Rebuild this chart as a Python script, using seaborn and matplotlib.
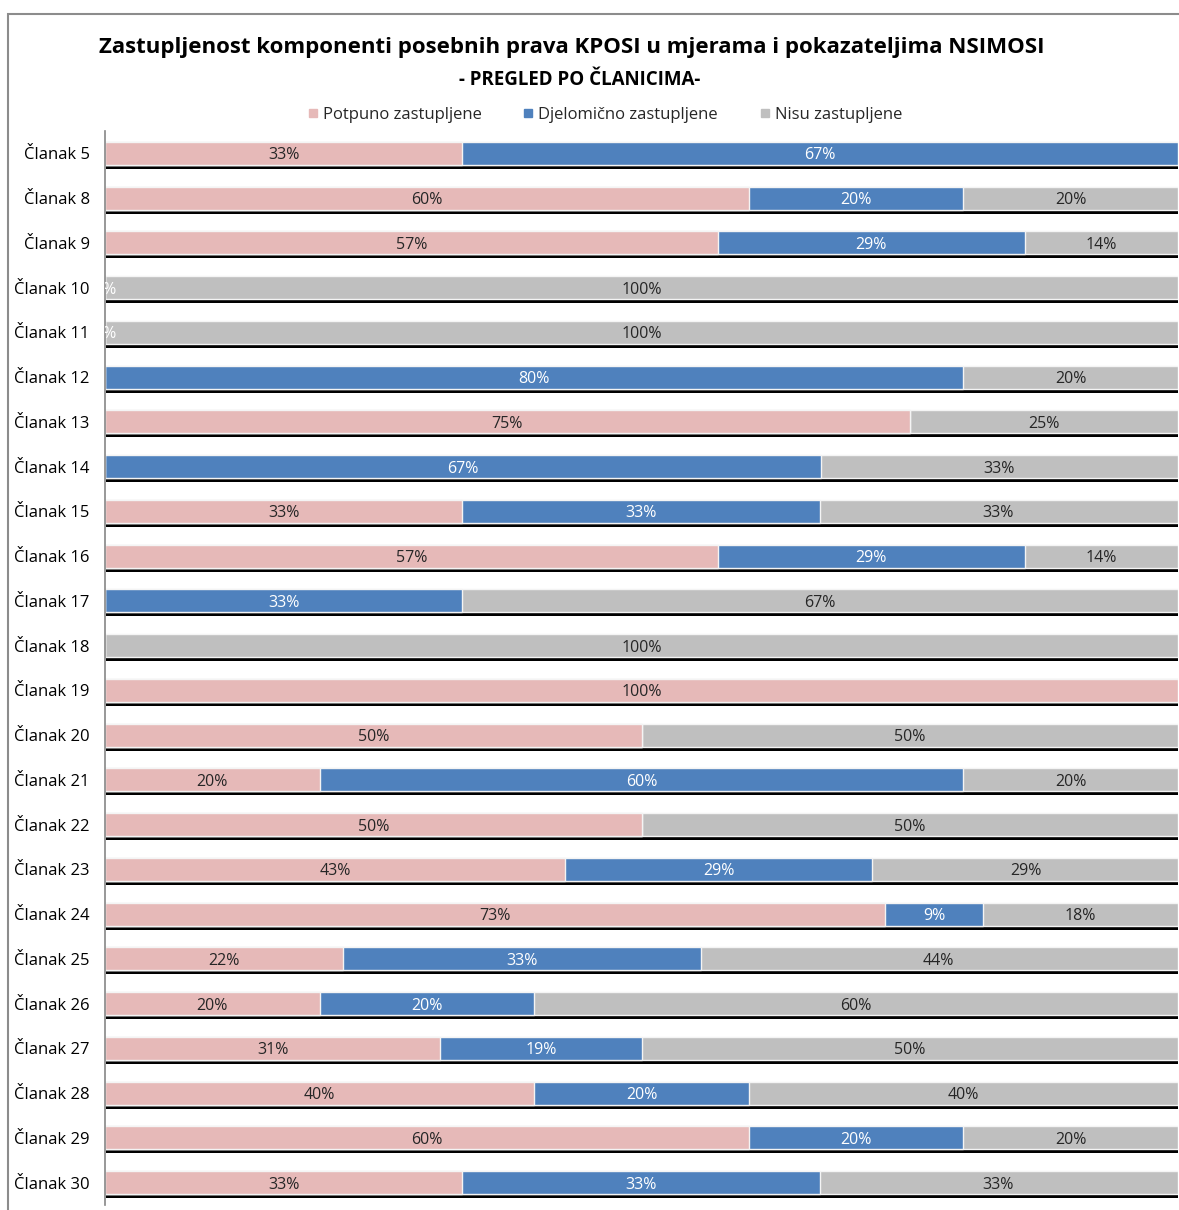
import numpy as np
import pandas as pd
import matplotlib
matplotlib.use("Agg")
import matplotlib.pyplot as plt
import matplotlib.patheffects as pe
from matplotlib.patches import Rectangle
from matplotlib.lines import Line2D
import seaborn as sns

articles = ["Članak 5", "Članak 8", "Članak 9", "Članak 10", "Članak 11", "Članak 12",
            "Članak 13", "Članak 14", "Članak 15", "Članak 16", "Članak 17", "Članak 18",
            "Članak 19", "Članak 20", "Članak 21", "Članak 22", "Članak 23", "Članak 24",
            "Članak 25", "Članak 26", "Članak 27", "Članak 28", "Članak 29", "Članak 30"]
full = [33.3, 60, 57.1, 0, 0, 0, 75, 0, 33.3, 57.1, 0, 0, 100, 50, 20, 50, 42.9, 72.7,
        22.2, 20, 31.25, 40, 60, 33.3]
partial = [66.7, 20, 28.6, 0, 0, 80, 0, 66.7, 33.3, 28.6, 33.3, 0, 0, 0, 60, 0, 28.6, 9.1,
           33.3, 20, 18.75, 20, 20, 33.3]
none_ = [0, 20, 14.3, 100, 100, 20, 25, 33.3, 33.3, 14.3, 66.7, 100, 0, 50, 20, 50, 28.6, 18.2,
         44.4, 60, 50, 40, 20, 33.3]
series_names = ["Potpuno zastupljene", "Djelomično zastupljene", "Nisu zastupljene"]
colors = ["#E6B9B8", "#4F81BD", "#BFBFBF"]
zero_label_rows = ["Članak 10", "Članak 11"]

title = "Zastupljenost komponenti posebnih prava KPOSI u mjerama i pokazateljima NSIMOSI"
subtitle = "- PREGLED PO ČLANICIMA-"

sns.set_style("white")
plt.rcParams["font.family"] = ["Open Sans", "DejaVu Sans"]

df = pd.DataFrame({"article": articles, "full": full, "partial": partial, "none": none_})
df["c1"] = df["full"]
df["c2"] = df["full"] + df["partial"]
df["c3"] = df["full"] + df["partial"] + df["none"]
df["c3"] = df["c3"] / df["c3"] * 100

W, H = 1179, 1210
fig = plt.figure(figsize=(W / 100, H / 100), dpi=100)
ax = fig.add_axes([105 / W, 1 - 1205 / H, 1073 / W, (1205 - 131) / H])

bw = 0.51
edge_kw = dict(edgecolor="#F4F4F4", linewidth=1.0)
sns.barplot(data=df, x="c3", y="article", color=colors[2], saturation=1, width=bw,
            orient="h", ax=ax, **edge_kw)
n_first = len(ax.patches)
for p in ax.patches[:n_first]:
    p.set_path_effects([pe.SimplePatchShadow(offset=(0.7, -2.9), shadow_rgbFace="black", alpha=1),
                        pe.Normal()])
sns.barplot(data=df, x="c2", y="article", color=colors[1], saturation=1, width=bw,
            orient="h", ax=ax, **edge_kw)
sns.barplot(data=df, x="c1", y="article", color=colors[0], saturation=1, width=bw,
            orient="h", ax=ax, **edge_kw)

# segment labels
for i, row in df.iterrows():
    start = 0
    for val, col in zip([row["full"], row["partial"], row["none"]], colors):
        if val > 0:
            tc = "white" if col == colors[1] else "#262626"
            ax.text(start + val / 2, i, f"{val:.0f}%", ha="center", va="center_baseline",
                    fontsize=11.5, color=tc, clip_on=True)
        start += val
    if row["article"] in zero_label_rows:
        ax.text(0, i, "0%", ha="center", va="center_baseline", fontsize=11.5, color="white",
                clip_on=True)

ax.set_xlim(0, 100)
ax.set_ylim(len(articles) - 0.5, -0.5)
ax.set_xlabel("")
ax.set_ylabel("")
ax.set_xticks([])
ax.tick_params(axis="y", length=0, pad=11, labelsize=12, labelcolor="black")
for s in ["top", "right", "bottom"]:
    ax.spines[s].set_visible(False)
ax.spines["left"].set_color("#868686")
ax.spines["left"].set_linewidth(1.2)

# titles
fig.text(572 / W, 1 - 48 / H, title, ha="center", va="center", fontsize=16, fontweight="bold",
         color="black")
fig.text(580 / W, 1 - 80 / H, subtitle, ha="center", va="center", fontsize=13.5,
         fontweight="bold", color="black")

handles = [Line2D([0], [0], marker="s", linestyle="", markersize=6, markerfacecolor=c,
                  markeredgecolor=c) for c in colors]
fig.legend(handles, series_names, loc="center", bbox_to_anchor=(604 / W, 1 - 115 / H),
           ncol=3, frameon=False, fontsize=12, handletextpad=0.2, columnspacing=2.4,
           handlelength=0.8)

# chart frame
fig.add_artist(Rectangle((8 / W, -0.1), 1.2, 1.1 - 14 / H, transform=fig.transFigure,
                         fill=False, edgecolor="#8c8c8c", linewidth=1.5))

fig.savefig("out.png", dpi=100)
